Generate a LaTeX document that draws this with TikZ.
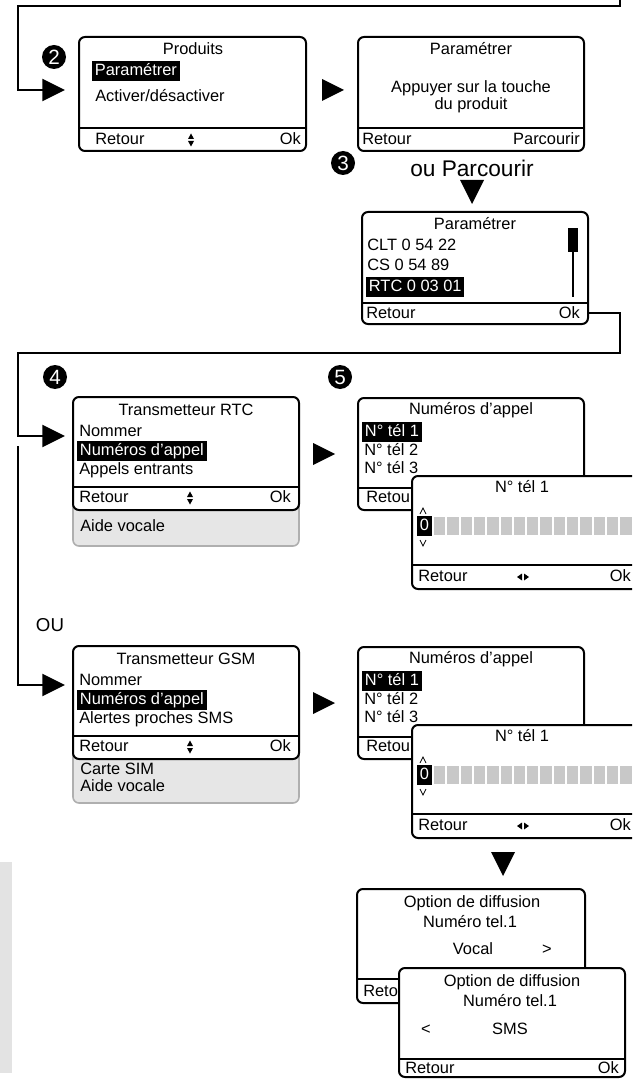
\documentclass[tikz,border=0pt]{standalone}
\usepackage{fontspec}
\setmainfont{Liberation Sans}
\usetikzlibrary{arrows.meta}
\definecolor{panelgray}{RGB}{230,230,230}
\definecolor{panelline}{RGB}{175,175,175}
\definecolor{cellgray}{RGB}{200,200,200}
\definecolor{stripgray}{RGB}{227,227,227}
\begin{document}
\begin{tikzpicture}[x=0.75pt,y=-0.75pt,
  screen/.style={draw, line width=1.5pt, rounded corners=4.5pt, fill=white, inner sep=0, outer sep=0, anchor=north west, minimum width=169.5pt},
  div/.style={line width=1.5pt},
  txt/.style={font=\fontsize{12.3}{14}\selectfont, inner sep=0, text height=9pt, text depth=2.5pt},
  hl/.style={txt, fill=black, text=white, inner xsep=2pt, inner ysep=1.5pt},
  panel/.style={draw=panelline, line width=1.2pt, fill=panelgray, rounded corners=4.5pt},
  conn/.style={line width=1.5pt},
  tip/.style={-{Triangle[length=17pt,width=16.5pt]}},
  num/.style={circle, fill=black, text=white, inner sep=0, minimum size=18pt, font=\fontsize{15.5}{15.5}\selectfont},
  rtri/.pic={\fill (-11,-11) -- (11,0) -- (-11,11) -- cycle;},
  dtri/.pic={\fill (-12,-12) -- (12,-12) -- (0,12) -- cycle;},
  updown/.pic={\fill (-3,-1) -- (3,-1) -- (0,-6.5) -- cycle; \fill (-3,1) -- (3,1) -- (0,6.5) -- cycle;},
  leftright/.pic={\fill (-1,-3.5) -- (-1,3.5) -- (-6,0) -- cycle; \fill (1,-3.5) -- (1,3.5) -- (6,0) -- cycle;},
  chev/.style={line width=0.6pt}
]
\useasboundingbox (0,0) rectangle (632,1080);
\begin{scope}
\clip (0,0) rectangle (632,1080);

% ---------- Row 1 ----------
\coordinate (topin) at (620,0);
\coordinate (A-in) at (65,90);
\draw[conn,tip] (topin) |- (18,6) |- (A-in);
\node[num] (n2) at (54,57) {2};
\node[screen, minimum width=170.25pt, minimum height=85.5pt] (A) at (79,37) {};
\draw[div] (A.west |- 0,128) -- (A.east |- 0,128);
\node[txt] (A-t) at (193,50) {Produits};
\node[hl, anchor=west] (A-1) at (92,71) {Paramétrer};
\node[txt, anchor=west] (A-2) at (95,97) {Activer/désactiver};
\node[txt, anchor=west] (A-r) at (95,140) {Retour};
\pic at (191,140) {updown};
\node[txt, anchor=east] (A-o) at (301,140) {Ok};

\pic at (333,90) {rtri};

\node[screen, minimum height=85.5pt] (B) at (358,37) {};
\draw[div] (B.west |- 0,128) -- (B.east |- 0,128);
\node[txt] (B-t) at (471,50) {Paramétrer};
\node[txt] (B-1) at (471,88) {Appuyer sur la touche};
\node[txt] (B-2) at (471,105) {du produit};
\node[txt, anchor=west] (B-r) at (362,140) {Retour};
\node[txt, anchor=east] (B-o) at (580,140) {Parcourir};

\node[num] (n3) at (343,163) {3};
\node[font=\fontsize{17}{17}\selectfont, inner sep=0] (oup) at (472,168) {ou Parcourir};
\pic at (472,192) {dtri};

\node[screen, minimum height=84pt] (C) at (362,212) {};
\draw[div] (C.west |- 0,303) -- (C.east |- 0,303);
\node[txt] (C-t) at (475,225) {Paramétrer};
\node[txt, anchor=west] (C-1) at (367,246) {CLT 0 54 22};
\node[txt, anchor=west] (C-2) at (367,266) {CS 0 54 89};
\node[hl, anchor=west] (C-3) at (366,287) {RTC 0 03 01};
\node[txt, anchor=west] (C-r) at (366,314) {Retour};
\node[txt, anchor=east] (C-o) at (580,314) {Ok};
\fill (568,228) rectangle (578,252);
\draw[line width=1.5pt] (573,252) -- (573,297);

% ---------- connectors to row 2 ----------
\coordinate (D-in) at (65,436);
\coordinate (G-in) at (65,685);
\draw[conn,tip] (C.east |- 0,313) -| (620,353) -| (18,436) -- (D-in);
\draw[conn,tip] (18,446) |- (G-in);

% ---------- Row RTC ----------
\node[num] (n4) at (55,377) {4};
\node[num] (n5) at (340,377) {5};
\draw[panel] (73,480) rectangle (299,546);
\node[screen, minimum height=84.75pt] (D) at (73,397) {};
\draw[div] (D.west |- 0,487) -- (D.east |- 0,487);
\node[txt] (D-t) at (186,411) {Transmetteur RTC};
\node[txt, anchor=west] (D-1) at (79,432) {Nommer};
\node[hl, anchor=west] (D-2) at (77,451) {Numéros d'appel};
\node[txt, anchor=west] (D-3) at (79,470) {Appels entrants};
\node[txt, anchor=west] (D-r) at (79,498) {Retour};
\pic at (190,498) {updown};
\node[txt, anchor=east] (D-o) at (291,498) {Ok};
\node[txt, anchor=west] (D-4) at (80,527) {Aide vocale};

\pic at (324,454) {rtri};

\node[screen, minimum height=84pt] (E) at (358,398) {};
\draw[div] (E.west |- 0,488) -- (E.east |- 0,488);
\node[txt] (E-t) at (471,410) {Numéros d'appel};
\node[hl, anchor=west] (E-1) at (362,432) {N° tél 1};
\node[txt, anchor=west] (E-2) at (364,451) {N° tél 2};
\node[txt, anchor=west] (E-3) at (364,469) {N° tél 3};
\node[txt, anchor=west] (E-r) at (366,498) {Retour};

\node[screen, minimum width=171pt, minimum height=84.75pt] (F) at (412,476) {};
\draw[div] (F.west |- 0,565) -- (F.east |- 0,565);
\node[txt] (F-t) at (522,488) {N° tél 1};
\draw[chev] (420,514) -- (423,508) -- (426,514);
\draw[chev] (420,540) -- (423,546) -- (426,540);
\node[hl, anchor=west] (F-0) at (417,526) {0};
\foreach \i in {0,...,14} \fill[cellgray] ({434+\i*13.3},517) rectangle ++(11.3,18);
\node[txt, anchor=west] (F-r) at (418,577) {Retour};
\pic at (523,577) {leftright};
\node[txt, anchor=east] (F-o) at (631,577) {Ok};

% ---------- Row GSM ----------
\node[font=\fontsize{14}{14}\selectfont, inner sep=0] (ou) at (50,625) {OU};
\draw[panel] (73,729) rectangle (299,803);
\node[screen, minimum height=84.75pt] (G) at (73,646) {};
\draw[div] (G.west |- 0,736) -- (G.east |- 0,736);
\node[txt] (G-t) at (186,660) {Transmetteur GSM};
\node[txt, anchor=west] (G-1) at (79,681) {Nommer};
\node[hl, anchor=west] (G-2) at (77,700) {Numéros d'appel};
\node[txt, anchor=west] (G-3) at (79,719) {Alertes proches SMS};
\node[txt, anchor=west] (G-r) at (79,747) {Retour};
\pic at (190,747) {updown};
\node[txt, anchor=east] (G-o) at (291,747) {Ok};
\node[txt, anchor=west] (G-4) at (80,770) {Carte SIM};
\node[txt, anchor=west] (G-5) at (80,787) {Aide vocale};

\pic at (324,703) {rtri};

\node[screen, minimum height=84pt] (H) at (358,647) {};
\draw[div] (H.west |- 0,737) -- (H.east |- 0,737);
\node[txt] (H-t) at (471,659) {Numéros d'appel};
\node[hl, anchor=west] (H-1) at (362,681) {N° tél 1};
\node[txt, anchor=west] (H-2) at (364,700) {N° tél 2};
\node[txt, anchor=west] (H-3) at (364,718) {N° tél 3};
\node[txt, anchor=west] (H-r) at (366,747) {Retour};

\node[screen, minimum width=171pt, minimum height=84.75pt] (I) at (412,725) {};
\draw[div] (I.west |- 0,814) -- (I.east |- 0,814);
\node[txt] (I-t) at (522,737) {N° tél 1};
\draw[chev] (420,763) -- (423,757) -- (426,763);
\draw[chev] (420,789) -- (423,795) -- (426,789);
\node[hl, anchor=west] (I-0) at (417,775) {0};
\foreach \i in {0,...,14} \fill[cellgray] ({434+\i*13.3},766) rectangle ++(11.3,18);
\node[txt, anchor=west] (I-r) at (418,826) {Retour};
\pic at (523,826) {leftright};
\node[txt, anchor=east] (I-o) at (631,826) {Ok};

\pic at (503,864) {dtri};

% ---------- Option de diffusion ----------
\fill[stripgray] (0,862) rectangle (12,1073);

\node[screen, minimum width=171pt, minimum height=85.5pt] (J) at (357,889) {};
\draw[div] (J.west |- 0,979) -- (J.east |- 0,979);
\node[txt] (J-t) at (472,903) {Option de diffusion};
\node[txt] (J-1) at (470,923) {Numéro tel.1};
\node[txt] (J-2) at (473,950) {Vocal};
\node[txt] (J-3) at (547,950) {>};
\node[txt, anchor=west] (J-r) at (363,992) {Retour};

\node[screen, minimum height=81.75pt] (K) at (399,968) {};
\draw[div] (K.west |- 0,1059) -- (K.east |- 0,1059);
\node[txt] (K-t) at (512,982) {Option de diffusion};
\node[txt] (K-1) at (510,1002) {Numéro tel.1};
\node[txt] (K-2) at (426,1030) {<};
\node[txt] (K-3) at (510,1030) {SMS};
\node[txt, anchor=west] (K-r) at (405,1069) {Retour};
\node[txt, anchor=east] (K-o) at (619,1069) {Ok};
\end{scope}
\end{tikzpicture}
\end{document}
